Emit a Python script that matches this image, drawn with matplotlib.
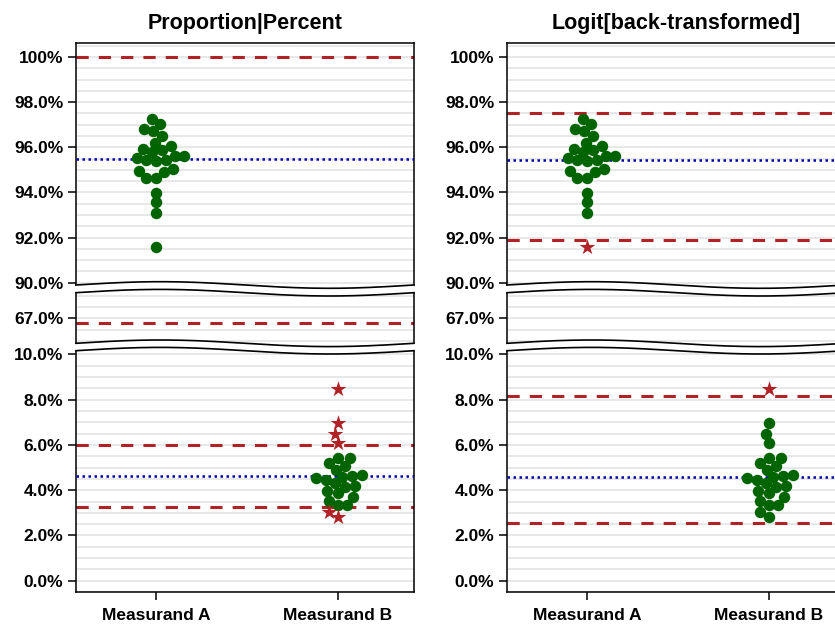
import numpy as np
import matplotlib.pyplot as plt
from matplotlib.patches import Polygon
from matplotlib.lines import Line2D
from matplotlib.ticker import MultipleLocator

plt.rcParams['font.family'] = ['Liberation Sans', 'DejaVu Sans']

groups = ['Measurand A', 'Measurand B']
titles = ['Proportion|Percent', 'Logit[back-transformed]']

# observed proportions (%)
vals_a = [97.25, 97.03, 96.80, 96.73, 96.51, 96.20, 96.07, 95.92, 95.89, 95.78,
          95.60, 95.60, 95.51, 95.44, 95.44, 95.38, 95.02, 94.95, 94.89, 94.65,
          94.65, 93.99, 93.56, 93.10, 91.57]
vals_b = [8.47, 6.95, 6.48, 6.07, 5.43, 5.43, 5.19, 5.05, 4.90, 4.66,
          4.64, 4.57, 4.52, 4.47, 4.30, 4.18, 4.15, 3.95, 3.89, 3.68,
          3.53, 3.34, 3.34, 3.05, 2.83]

# (lower, upper) limits per group, and the centre line, for each panel
limits = [[(66.8, 100.0), (3.27, 6.0)],
          [(91.89, 97.5), (2.54, 8.17)]]
centres = [[95.47, 4.61],
           [95.45, 4.57]]

# stacked y sections of the broken axis
sec_lims = [(89.9, 100.62), (65.89, 68.13), (-0.51, 10.16)]
sec_ticks = [[90, 92, 94, 96, 98, 100], [67], [0, 2, 4, 6, 8, 10]]
xlim = (0.56, 2.42)

W, H = 835, 628
panel_x = [76, 507]
panel_w = 338
sec_px = [(43, 285), (292.7, 343.3), (350.7, 592.3)]
breaks = [(285, 292.7), (343.3, 350.7)]

green = '#006400'
red = '#b02226'
blue = '#0000b0'


def swarm(y, d):
    # simple beeswarm: place points bottom-up as close to the centre as possible
    order = np.argsort(y)
    x = np.zeros(len(y))
    placed = []
    for i in order:
        near = [j for j in placed if abs(y[j] - y[i]) < d]
        cands = [0.0]
        for j in near:
            dx = np.sqrt(d ** 2 - (y[j] - y[i]) ** 2)
            cands += [x[j] - dx, x[j] + dx]
        cands.sort(key=abs)
        for c in cands:
            if all((x[j] - c) ** 2 + (y[j] - y[i]) ** 2 >= d ** 2 - 1e-6 for j in near):
                x[i] = c
                break
        placed.append(i)
    return x


def fmt(v):
    return '100%' if v == 100 else f'{v:.1f}%'


fig = plt.figure(figsize=(W / 100, H / 100), dpi=100)

px_per_y = (sec_px[0][1] - sec_px[0][0]) / (sec_lims[0][1] - sec_lims[0][0])
px_per_x = panel_w / (xlim[1] - xlim[0])

for p in range(2):
    axes = []
    for s in range(3):
        top, bot = sec_px[s]
        ax = fig.add_axes([panel_x[p] / W, 1 - bot / H, panel_w / W, (bot - top) / H])
        ax.set_xlim(*xlim)
        ax.set_ylim(*sec_lims[s])
        ax.set_yticks(sec_ticks[s])
        ax.set_yticklabels([fmt(v) for v in sec_ticks[s]], fontsize=12.5, fontweight='bold')
        ax.yaxis.set_minor_locator(MultipleLocator(0.5))
        ax.grid(True, which='both', axis='y', color='#e2e2e2', lw=1.1, zorder=0)
        ax.set_axisbelow(True)
        ax.tick_params(axis='y', which='major', length=6, width=1.1, pad=3)
        ax.tick_params(axis='y', which='minor', length=0)
        for sp in ax.spines.values():
            sp.set_linewidth(1.1)
        if s > 0:
            ax.spines['top'].set_visible(False)
        if s < 2:
            ax.spines['bottom'].set_visible(False)
            ax.set_xticks([])
        else:
            ax.set_xticks([1, 2])
            ax.set_xticklabels(groups, fontsize=12.5, fontweight='bold')
            ax.tick_params(axis='x', length=6, width=1.1, pad=5)
        axes.append(ax)

    axes[0].set_title(titles[p], fontsize=15.5, fontweight='bold', pad=10)

    for g, vals in enumerate([vals_a, vals_b]):
        v = np.array(vals)
        lo, hi = limits[p][g]
        xs = g + 1 + swarm(v * px_per_y, 9.7) / px_per_x
        out = (v < lo) | (v > hi)
        for ax in axes:
            ax.axhline(lo, color=red, lw=2.2, dashes=(4, 3.3), zorder=2)
            ax.axhline(hi, color=red, lw=2.2, dashes=(4, 3.3), zorder=2)
            ax.scatter(xs[~out], v[~out], s=68, color=green, lw=0, zorder=4)
            ax.scatter(xs[out], v[out], s=140, marker='*', color=red, lw=0, zorder=4)

    for ax in axes:
        for c in centres[p]:
            ax.axhline(c, color=blue, lw=1.8, dashes=(1, 1.4), zorder=3)

    # wavy break marks between the sections
    t = np.linspace(0, 1, 300)
    fx = (panel_x[p] + t * panel_w) / W
    bump = 3.3 * np.sin(2 * np.pi * t)
    for y1, y2 in breaks:
        up = 1 - (y1 - bump) / H
        dn = 1 - (y2 - bump) / H
        poly = np.column_stack([np.r_[fx, fx[::-1]], np.r_[up, dn[::-1]]])
        fig.add_artist(Polygon(poly, closed=True, transform=fig.transFigure,
                               facecolor='white', edgecolor='none', zorder=5))
        for yy in (up, dn):
            fig.add_artist(Line2D(fx, yy, transform=fig.transFigure,
                                  color='black', lw=1.2, zorder=6))

fig.savefig('out.png', dpi=100)
